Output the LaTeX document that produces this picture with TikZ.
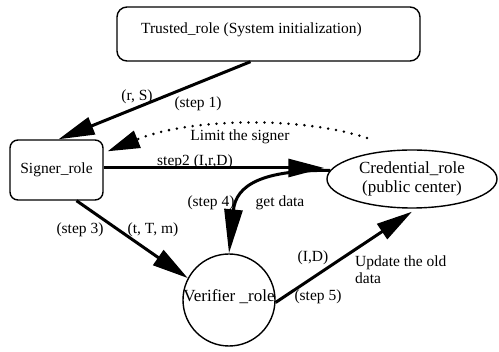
\documentclass[tikz,border=0pt]{standalone}
\usepackage{fontspec}
\setmainfont{Liberation Serif}
\usetikzlibrary{arrows.meta,shapes.geometric,calc}
\begin{document}
\begin{tikzpicture}[x=1pt,y=-1pt,
  every node/.style={font=\fontsize{15.5pt}{17pt}\selectfont},
  lbl/.style={inner sep=0pt},
  bigfont/.style={font=\fontsize{17pt}{19pt}\selectfont},
  rolebox/.style={draw, line width=1.4pt, inner sep=0pt},
  arr/.style={line width=3pt, -{Triangle[length=36pt,width=18pt]}},
  longarr/.style={line width=3pt, -{Triangle[length=44pt,width=18pt]}},
  dotarr/.style={line width=2.8pt, line cap=round, dash pattern=on 0pt off 8pt, -{Triangle[length=32pt,width=18pt]}}
]
\useasboundingbox (0,0) rectangle (499,352);
\node[rolebox, rounded corners=10pt, minimum width=303pt, minimum height=54pt] (trusted) at (268.5,34)
  {\raisebox{0pt}[\height][\dimexpr\depth+8pt]{Trusted\_role (System initialization)}\hspace*{34pt}};
\node[rolebox, rounded corners=8pt, minimum width=93pt, minimum height=60pt] (signer) at (56.5,170) {Signer\_role};
\node[rolebox, ellipse, bigfont, minimum width=170pt, minimum height=58pt, align=center] (cred) at (412,179) {Credential\_role\\(public center)};
\node[rolebox, circle, bigfont, minimum size=92pt] (ver) at (229,300) {};
\node[lbl, bigfont] (vertext) at (229,297) {Verifier \_role};

% labels
\node[lbl] (l1) at (137,97) {(r, S)};
\node[lbl] (l2) at (198,104) {(step 1)};
\node[lbl] (l3) at (240,137) {Limit the signer};
\node[lbl] (l4) at (195,162) {step2 (I,r,D)};
\node[lbl] (l5) at (211,203) {(step 4)};
\node[lbl] (l6) at (280,203) {get data};
\node[lbl] (l7) at (80,230) {(step 3)};
\node[lbl] (l8) at (153,230) {(t, T, m)};
\node[lbl] (l9) at (313,258) {(I,D)};
\node[lbl] (l10) at (318,297) {(step 5)};
\node[lbl, anchor=north west, align=left] (l11) at (355,256) {Update the old\\data};

% connectors
\draw[arr] ([xshift=-18pt]trusted.south) -- ([xshift=2pt]signer.north);
\coordinate (dotend) at (367,138);
\draw[dotarr] (dotend) .. controls (300,116) and (190,118) .. ([xshift=4pt,yshift=-12pt]signer.north east);
\draw[arr] ([yshift=2pt]signer.east) -- ([yshift=2pt,xshift=-2pt]signer.east -| cred.west);
\draw[longarr] (cred.174) .. controls (262,170) and (236,185) .. (ver.north);
\draw[arr] ([xshift=20pt]signer.south) -- (ver.152);
\draw[arr] (ver.-3) -- ([yshift=-3pt]cred.south);
\end{tikzpicture}
\end{document}
